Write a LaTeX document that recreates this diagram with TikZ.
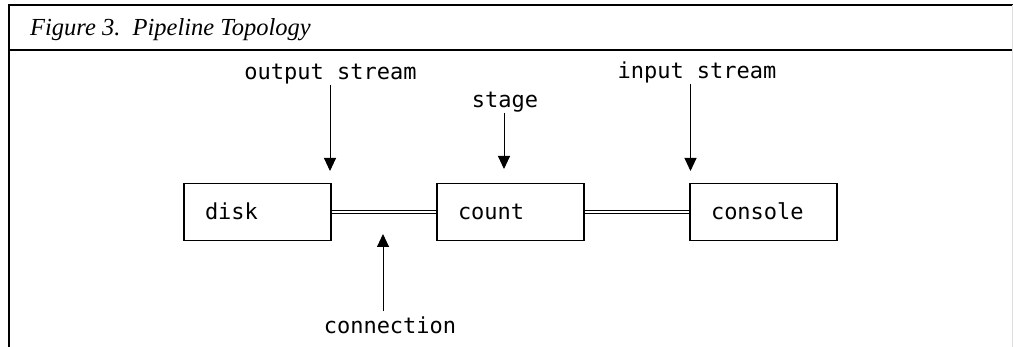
\documentclass[tikz,border=0pt]{standalone}
\usepackage{fontspec}
\setmainfont{Liberation Serif}
\setmonofont{DejaVu Sans Mono}
\usetikzlibrary{arrows.meta}

\tikzset{
  stagebox/.style={draw, line width=1.1pt, inner xsep=21pt, text width=105pt,
    text height=16pt, text depth=0pt, minimum height=57pt, align=left,
    font=\fontsize{22}{24}\selectfont\ttfamily},
  lbl/.style={inner sep=0pt, anchor=base, font=\fontsize{22}{24}\selectfont\ttfamily},
  pointer/.style={line width=0.9pt, -{Triangle[width=12pt,length=13pt]}},
  pipe/.style={double, double distance=2.6pt, line width=0.8pt}
}

\begin{document}
\begin{tikzpicture}[x=1pt,y=-1pt]
  \useasboundingbox (0,0) rectangle (1013,347);

  % Marco y titulo
  \draw[line width=1.5pt] (9,347) -- (9,5) -- (1013,5);
  \draw[line width=1.5pt] (9,50) -- (1013,50);
  \draw[gray!25, line width=0.6pt] (1012.5,5) -- (1012.5,347);
  \node[anchor=base west, inner sep=0pt, font=\fontsize{24.5}{26}\selectfont\itshape]
    (title) at (30,36) {Figure\ 3.\ \ Pipeline Topology};

  % Etapas
  \node[stagebox] (disk)    at (257.5,212) {disk};
  \node[stagebox] (count)   at (510.5,212) {count};
  \node[stagebox] (console) at (763.5,212) {console};

  % Conexiones
  \draw[pipe] (disk.east) -- (count.west);
  \draw[pipe] (count.east) -- (console.west);

  % Etiquetas con flechas
  \node[lbl] (outlbl)   at (330.5,80) {output stream};
  \node[lbl] (stagelbl) at (505,108)  {stage};
  \node[lbl] (inlbl)    at (697,79)   {input stream};
  \node[lbl] (connlbl)  at (390,334)  {connection};

  \coordinate (outtip)   at (330,171);
  \coordinate (stagetip) at (504,169);
  \coordinate (intip)    at (690.5,171);
  \coordinate (conntip)  at (383,234);

  \draw[pointer] (outlbl.south -| outtip) -- (outtip);
  \draw[pointer] (stagelbl.south -| stagetip) -- (stagetip);
  \draw[pointer] (inlbl.south -| intip) -- (intip);
  \draw[pointer] ([yshift=6pt]connlbl.north -| conntip) -- (conntip);
\end{tikzpicture}
\end{document}
